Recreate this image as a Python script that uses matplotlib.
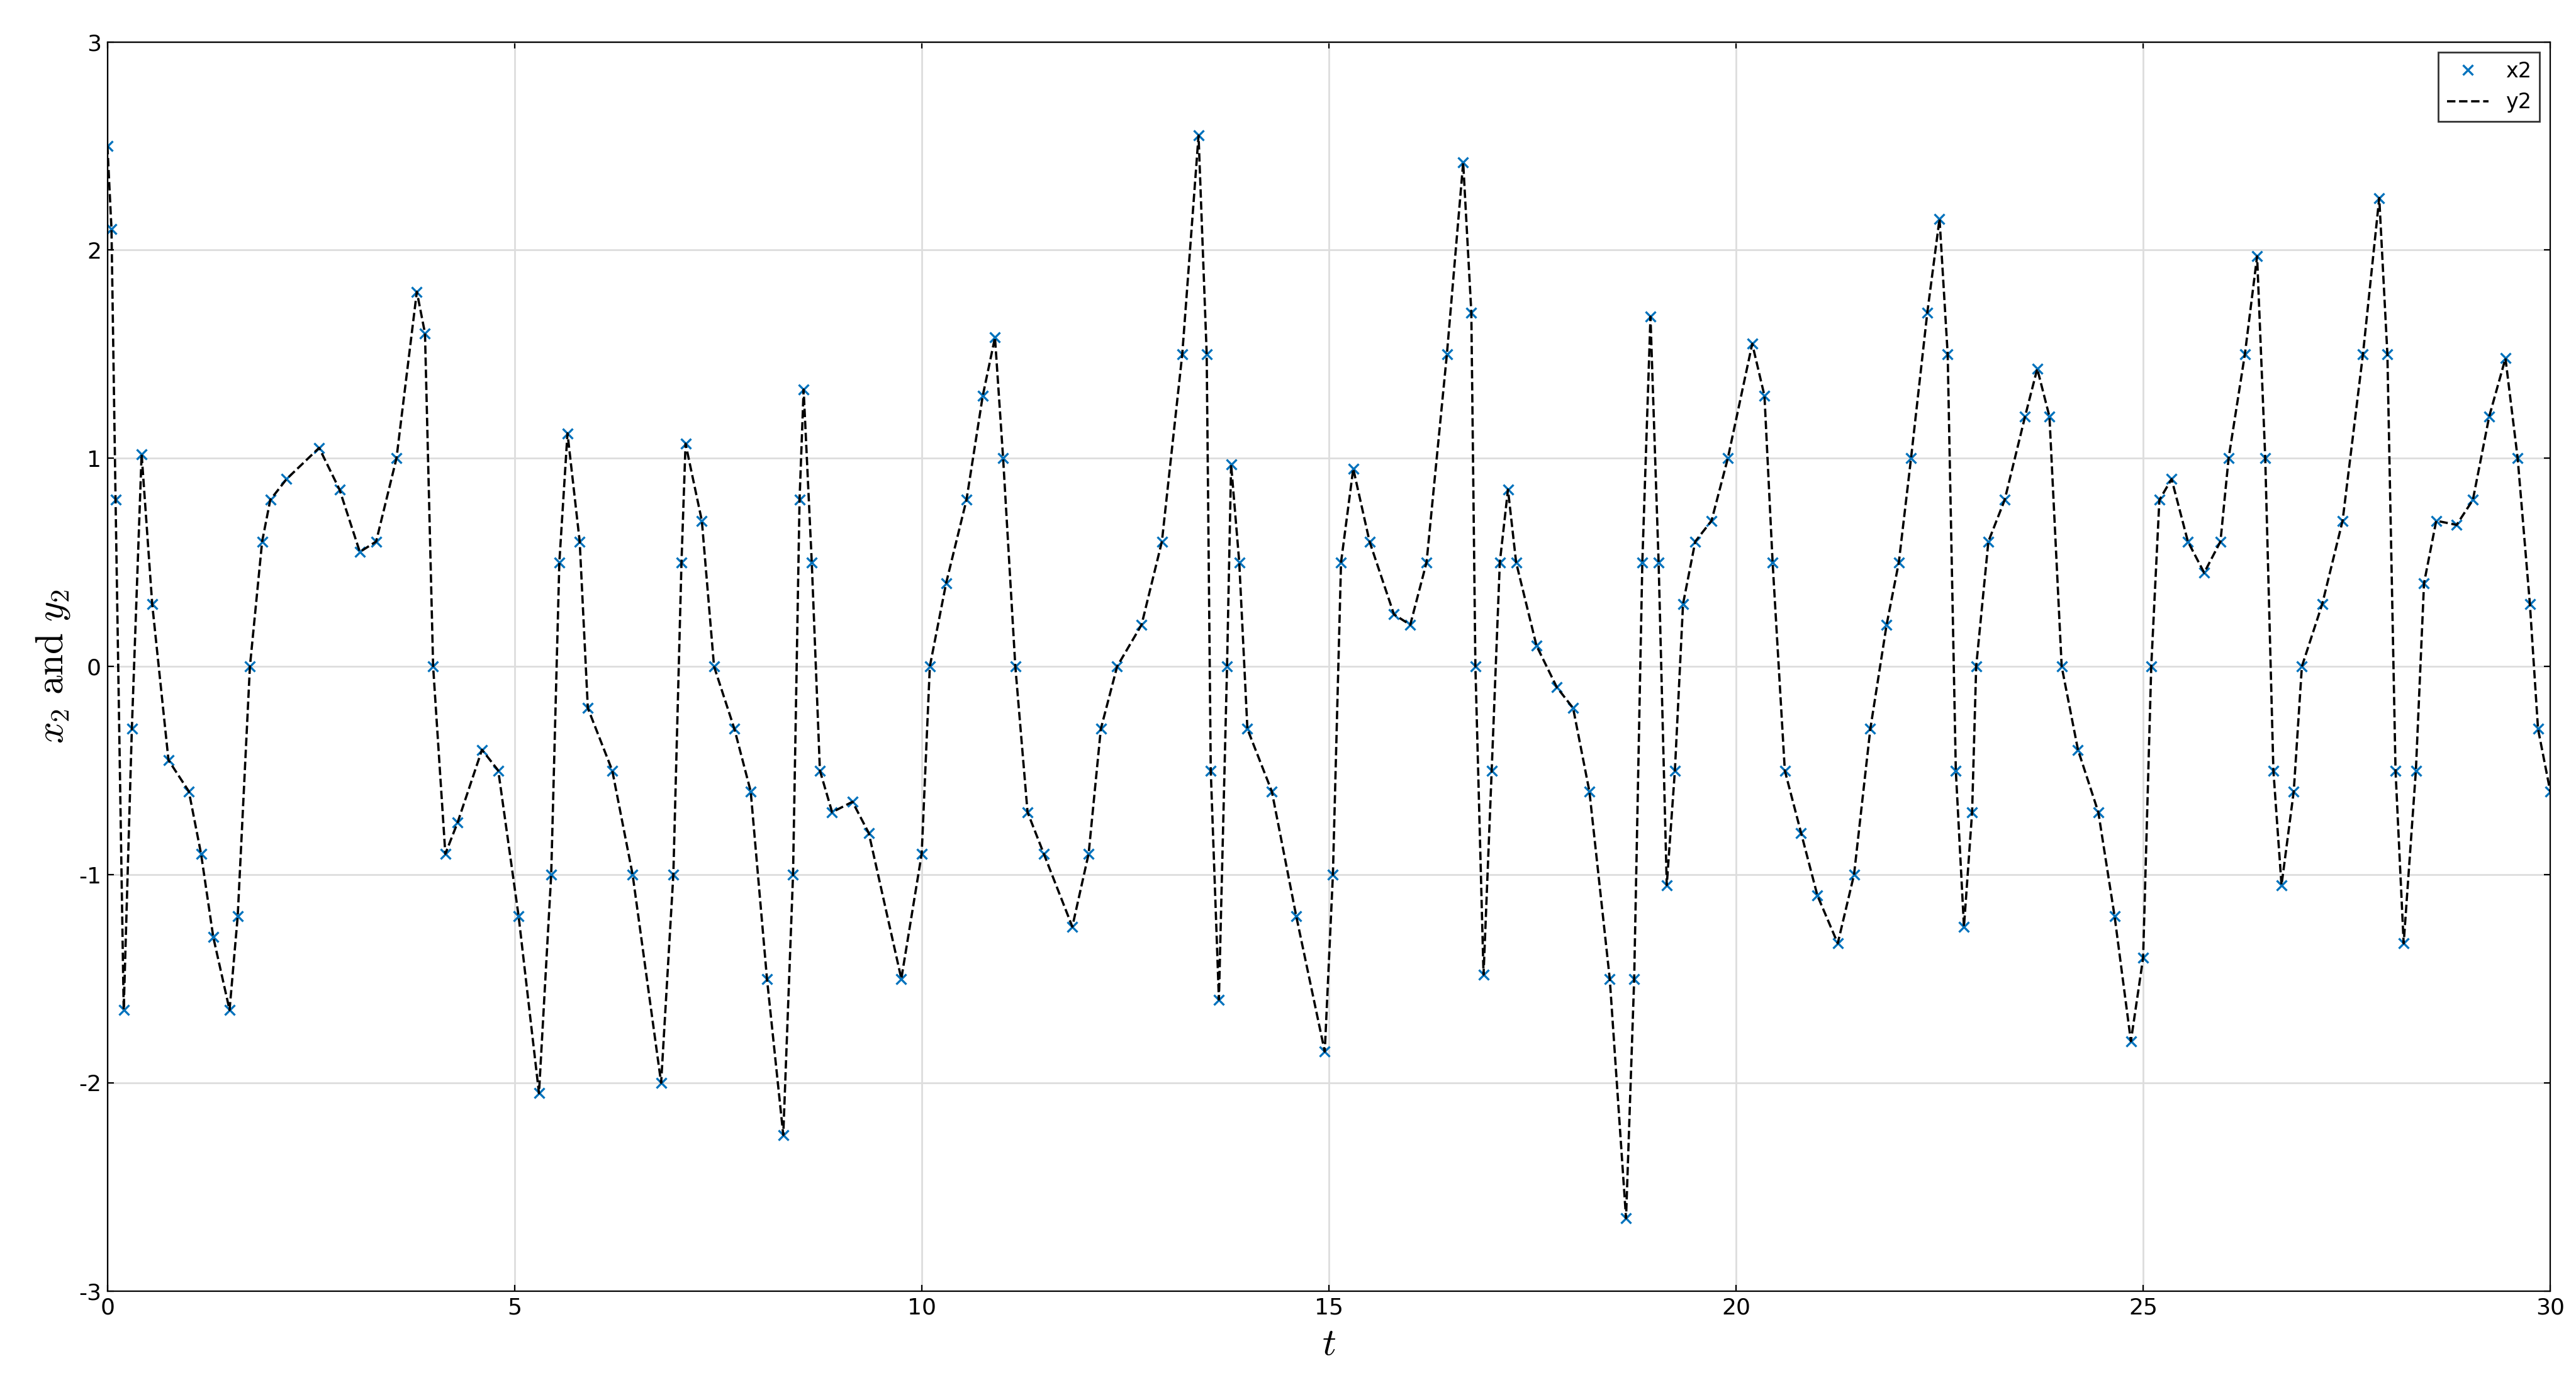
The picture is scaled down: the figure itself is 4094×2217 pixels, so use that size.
import matplotlib
matplotlib.use("Agg")
import matplotlib.pyplot as plt
import numpy as np

plt.rcParams["mathtext.fontset"] = "cm"
plt.rcParams["axes.unicode_minus"] = False

# (t, value)
t = [0, 0.05, 0.1, 0.2, 0.3, 0.42, 0.55, 0.75, 1.0, 1.15, 1.3, 1.5, 1.6, 1.75, 1.9, 2.0, 2.2, 2.6, 2.85, 3.1, 3.3, 3.55, 3.8, 3.9, 4.0, 4.15, 4.3, 4.6, 4.8, 5.05, 5.3,
     5.45, 5.55, 5.65, 5.8, 5.9, 6.2, 6.45, 6.8, 6.95, 7.05, 7.1, 7.3, 7.45, 7.7, 7.9, 8.1, 8.3, 8.42, 8.5, 8.55, 8.65, 8.75, 8.9, 9.15, 9.35, 9.75,
     10.0, 10.1, 10.3, 10.55, 10.75, 10.9, 11.0, 11.15, 11.3, 11.5, 11.85, 12.05, 12.2, 12.4, 12.7, 12.95, 13.2, 13.4, 13.5, 13.55, 13.65, 13.75,
     13.8, 13.9, 14.0, 14.3, 14.6, 14.95, 15.05, 15.15, 15.3, 15.5, 15.8, 16.0, 16.2, 16.45, 16.65, 16.75, 16.8, 16.9, 17.0, 17.1, 17.2, 17.3,
     17.55, 17.8, 18.0, 18.2, 18.45, 18.65, 18.75, 18.85, 18.95, 19.05, 19.15, 19.25, 19.35, 19.5, 19.7, 19.9, 20.2, 20.35, 20.45, 20.6, 20.8,
     21.0, 21.25, 21.45, 21.65, 21.85, 22.0, 22.15, 22.35, 22.5, 22.6, 22.7, 22.8, 22.9, 22.95, 23.1, 23.3, 23.55, 23.7, 23.85, 24.0, 24.2,
     24.45, 24.65, 24.85, 25.0, 25.1, 25.2, 25.35, 25.55, 25.75, 25.95, 26.05, 26.25, 26.4, 26.5, 26.6, 26.7, 26.85, 26.95, 27.2, 27.45, 27.7,
     27.9, 28.0, 28.1, 28.2, 28.35, 28.45, 28.6, 28.85, 29.05, 29.25, 29.45, 29.6, 29.75, 29.85, 30.0]
x2 = [2.5, 2.1, 0.8, -1.65, -0.3, 1.02, 0.3, -0.45, -0.6, -0.9, -1.3, -1.65, -1.2, 0.0, 0.6, 0.8, 0.9, 1.05, 0.85, 0.55, 0.6, 1.0, 1.8, 1.6, 0.0, -0.9, -0.75, -0.4, -0.5, -1.2, -2.05,
      -1.0, 0.5, 1.12, 0.6, -0.2, -0.5, -1.0, -2.0, -1.0, 0.5, 1.07, 0.7, 0.0, -0.3, -0.6, -1.5, -2.25, -1.0, 0.8, 1.33, 0.5, -0.5, -0.7, -0.65, -0.8, -1.5,
      -0.9, 0.0, 0.4, 0.8, 1.3, 1.58, 1.0, 0.0, -0.7, -0.9, -1.25, -0.9, -0.3, 0.0, 0.2, 0.6, 1.5, 2.55, 1.5, -0.5, -1.6, 0.0,
      0.97, 0.5, -0.3, -0.6, -1.2, -1.85, -1.0, 0.5, 0.95, 0.6, 0.25, 0.2, 0.5, 1.5, 2.42, 1.7, 0.0, -1.48, -0.5, 0.5, 0.85, 0.5,
      0.1, -0.1, -0.2, -0.6, -1.5, -2.65, -1.5, 0.5, 1.68, 0.5, -1.05, -0.5, 0.3, 0.6, 0.7, 1.0, 1.55, 1.3, 0.5, -0.5, -0.8,
      -1.1, -1.33, -1.0, -0.3, 0.2, 0.5, 1.0, 1.7, 2.15, 1.5, -0.5, -1.25, -0.7, 0.0, 0.6, 0.8, 1.2, 1.43, 1.2, 0.0, -0.4,
      -0.7, -1.2, -1.8, -1.4, 0.0, 0.8, 0.9, 0.6, 0.45, 0.6, 1.0, 1.5, 1.97, 1.0, -0.5, -1.05, -0.6, 0.0, 0.3, 0.7, 1.5,
      2.25, 1.5, -0.5, -1.33, -0.5, 0.4, 0.7, 0.68, 0.8, 1.2, 1.48, 1.0, 0.3, -0.3, -0.6]

fig = plt.figure(figsize=(20.47, 11.085), dpi=200)
ax = fig.add_axes([0.0417, 0.0745, 0.9483, 0.8955])
ax.plot(t, x2, "x", color="#0072BD", markersize=6, markeredgewidth=1.2, label="x2")
ax.plot(t, x2, "--", color="black", linewidth=1.3, label="y2")
ax.set_xlim(0, 30)
ax.set_ylim(-3, 3)
ax.set_xticks(range(0, 31, 5))
ax.set_yticks(range(-3, 4))
ax.grid(True, color="#dddddd", linewidth=1)
ax.tick_params(labelsize=13, direction="in", top=True, right=True)
ax.set_xlabel(r"$t$", fontsize=22)
ax.set_ylabel(r"$x_2\ \mathrm{and}\ y_2$", fontsize=22)
ax.legend(loc="upper right", fontsize=12, fancybox=False, edgecolor="black")
fig.savefig("out.png", dpi=200)
